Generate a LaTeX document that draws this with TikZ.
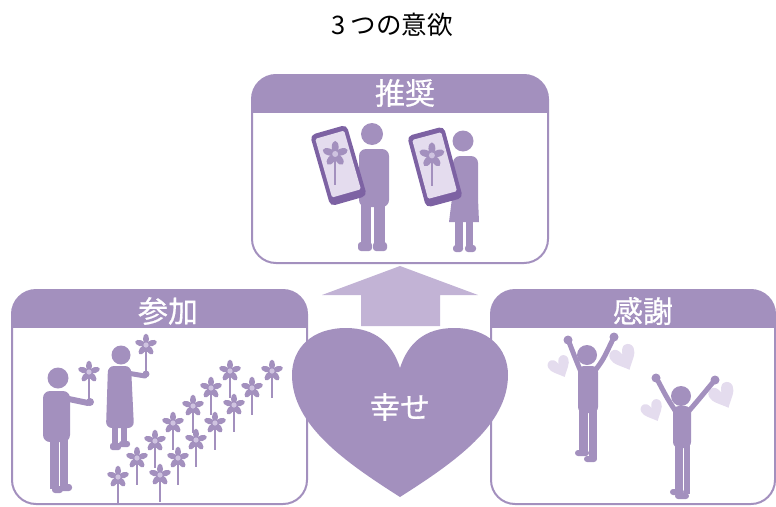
\documentclass[tikz,border=0pt]{standalone}
\usepackage{fontspec}
\setmainfont{Noto Sans CJK JP}
\definecolor{lav}{HTML}{A390BE}
\definecolor{phonec}{HTML}{7D62A3}
\definecolor{arrowc}{HTML}{C2B3D5}
\definecolor{palec}{HTML}{E4DCEE}
\definecolor{budc}{HTML}{CFC3E0}
\newcommand\panelbox[5]{%
  \begin{scope}
    \clip[rounded corners=24pt] (#1,#2) rectangle (#3,#4);
    \fill[lav] (#1,#2) rectangle (#3,#5);
  \end{scope}
  \draw[lav, line width=2pt, rounded corners=24pt] (#1,#2) rectangle (#3,#4);}
\tikzset{
  heading/.style={text=white, font=\fontsize{30}{34}\selectfont\addfontfeatures{FakeBold=0.6}, inner sep=0pt},
  limb/.style={lav, line width=5pt, line cap=round},
  flower/.pic={
    \draw[lav, line width=1.6pt] (0,0) -- (0,27);
    \foreach \a in {90,162,234,306,378}
      \fill[lav, rotate=\a] (6,0) ellipse (5.3pt and 3pt);
    \fill[budc] (0,0) circle (2.6pt);
  },
  smallheart/.pic={
    \fill[palec] (0,-3) .. controls (-1,-7) and (-3,-9) .. (-5,-9)
      .. controls (-8,-9) and (-10,-7) .. (-10,-4)
      .. controls (-10,1) and (-4,5) .. (0,10)
      .. controls (4,5) and (10,1) .. (10,-4)
      .. controls (10,-7) and (8,-9) .. (5,-9)
      .. controls (3,-9) and (1,-7) .. (0,-3) -- cycle;
  },
  phone/.pic={
    \fill[phonec, rounded corners=5pt] (-19,-37) rectangle (19,37);
    \fill[palec, rounded corners=1.5pt] (-15,-32) rectangle (15,29);
    \pic[scale=1.15] at (0,-12) {flower};
  }
}
\begin{document}
\begin{tikzpicture}[x=1pt, y=-1pt]
\useasboundingbox (0,0) rectangle (776,506);

% title
\node[font=\fontsize{25.5}{30}\selectfont, inner sep=0pt] (title) at (392,25) {3 つの意欲};

% three panels
\panelbox{252}{75}{548}{263}{113}
\panelbox{12}{290}{307}{504}{328}
\panelbox{491}{290}{775}{504}{328}
\node[heading] (hTop) at (405,93) {推奨};
\node[heading] (hLeft) at (168,311) {参加};
\node[heading] (hRight) at (643,311) {感謝};

% --- recommendation: two people holding phones
\fill[lav] (372,134) circle (11pt);
\fill[lav, rounded corners=7pt] (359,207) -- (359,149) -- (389,149) -- (389,207) -- cycle;
\fill[lav] (361,200) rectangle (371.3,246);
\fill[lav] (373.7,200) rectangle (384.5,246);
\fill[lav, rounded corners=3pt] (358,242) rectangle (372,251);
\fill[lav, rounded corners=3pt] (373,242) rectangle (387,251);
\pic[rotate=16] at (338.5,165.5) {phone};

\fill[lav] (463,141) circle (10.5pt);
\fill[lav, rounded corners=7pt] (453,205) -- (453,156) -- (478,156) -- (478,205) -- cycle;
\fill[lav] (449,222) -- (452,198) -- (478,198) -- (479,222) -- cycle;
\fill[lav] (455,220) rectangle (462.5,248);
\fill[lav] (465.5,220) rectangle (473,248);
\fill[lav, rounded corners=3pt] (453,245) rectangle (463,252);
\fill[lav, rounded corners=3pt] (465,245) rectangle (476,252);
\pic[rotate=15] at (435,167) {phone};

% --- participation: two people planting pinwheels
\fill[lav] (58,378) circle (10.5pt);
\fill[lav, rounded corners=7pt] (43,442) -- (43,391) -- (70,391) -- (70,442) -- cycle;
\draw[limb, line width=6pt] (64,398) -- (88,403);
\fill[lav] (50,438) rectangle (59,489);
\fill[lav] (60,438) rectangle (68,489);
\fill[lav, rounded corners=3pt] (52,486) rectangle (63,493);
\fill[lav, rounded corners=3pt] (60,484) rectangle (72,491);
\pic at (89,372) {flower};
\fill[lav] (90,402) circle (4pt);

\fill[lav] (121,355) circle (9.5pt);
\fill[lav, rounded corners=6pt] (106,428) -- (108,366) -- (131,366) -- (134,428) -- cycle;
\draw[limb] (127,373) -- (145,376);
\fill[lav] (112,426) rectangle (118,446);
\fill[lav] (121,426) rectangle (127,444);
\fill[lav, rounded corners=2.5pt] (110,443) rectangle (121,450);
\fill[lav, rounded corners=2.5pt] (119,441) rectangle (130,447);
\pic at (146,345) {flower};
\fill[lav] (146,374) circle (3.5pt);

\foreach \fx/\fy in {118/477, 137/458, 155/441, 173/423, 193/406, 211/388, 230/371,
                    272/371, 252/388, 234/405, 215/423, 196/440, 178/458, 160/475}
  \pic at (\fx,\fy) {flower};

% --- gratitude: two people cheering, with small hearts
\pic[rotate=25, scale=1.1] at (560,367) {smallheart};
\pic[rotate=25, scale=1.3] at (624,358) {smallheart};
\pic[rotate=25, scale=1.1] at (653,411) {smallheart};
\pic[rotate=25, scale=1.3] at (723,396) {smallheart};

\fill[lav] (587,355) circle (10pt);
\draw[limb] (581,372) .. controls (576,360) .. (569,342);
\draw[limb] (594,372) .. controls (603,360) .. (613,339);
\fill[lav] (568,340) circle (4.5pt);
\fill[lav] (614,337) circle (4.5pt);
\fill[lav, rounded corners=6pt] (578,413) -- (578,366) -- (598,366) -- (598,413) -- cycle;
\fill[lav] (579,408) rectangle (588,455);
\fill[lav] (589,408) rectangle (597,459);
\fill[lav, rounded corners=3pt] (575,450) rectangle (589,456);
\fill[lav, rounded corners=3pt] (584,456) rectangle (597,462);

\fill[lav] (681,396) circle (10pt);
\draw[limb] (676,412) .. controls (667,398) .. (657,379);
\draw[limb] (688,412) .. controls (700,398) .. (714,381);
\fill[lav] (656,378) circle (4.5pt);
\fill[lav] (715,380) circle (4.5pt);
\fill[lav, rounded corners=6pt] (673,448) -- (673,406) -- (691,406) -- (691,448) -- cycle;
\fill[lav] (675,440) rectangle (683,491);
\fill[lav] (684,440) rectangle (690,494);
\fill[lav, rounded corners=3pt] (670,489) rectangle (684,495);
\fill[lav, rounded corners=3pt] (675,493) rectangle (689,499);

% --- central arrow and heart
\fill[arrowc] (400,266) -- (478,295) -- (440,295) -- (440,326) -- (361,326)
  -- (361,295) -- (322,295) -- cycle;
\fill[lav] (400,368) .. controls (392,343) and (375,328) .. (346,328)
  .. controls (312,328) and (292,348) .. (292,375)
  .. controls (292,425) and (345,462) .. (400,497)
  .. controls (455,462) and (508,425) .. (508,375)
  .. controls (508,348) and (488,328) .. (454,328)
  .. controls (425,328) and (408,343) .. (400,368) -- cycle;
\node[heading] (happy) at (400,407) {幸せ};
\end{tikzpicture}
\end{document}
